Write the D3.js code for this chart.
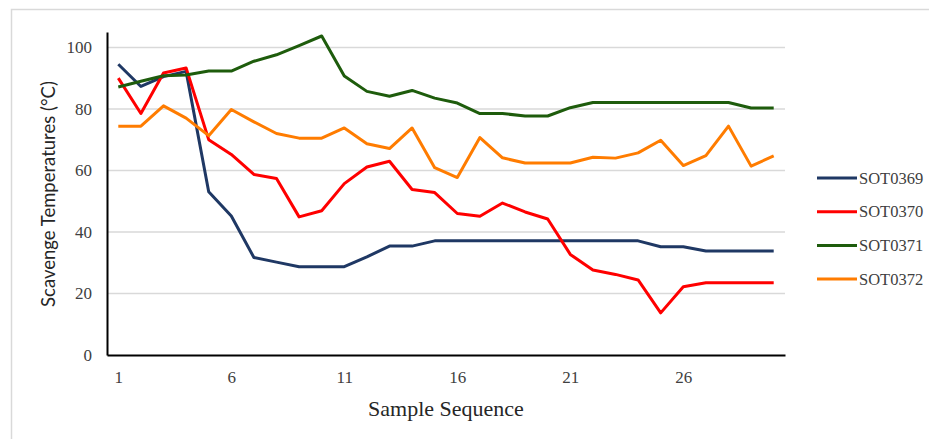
<!DOCTYPE html>
<html>
<head>
<meta charset="utf-8">
<script src="https://cdn.jsdelivr.net/npm/d3@7"></script>
<style>
  body { margin: 0; background: #fff; }
  .tick text { font-family: "Liberation Serif", serif; font-size: 17px; fill: #404040; }
</style>
</head>
<body>
<div id="chart"></div>
<script>
// data
var samples = d3.range(1, 31);
var seriesNames = ["SOT0369", "SOT0370", "SOT0371", "SOT0372"];
var seriesColors = ["#1f3864", "#ff0000", "#1e5c0c", "#ff7c00"];
var yTicks = [0, 20, 40, 60, 80, 100];
var xTicks = [1, 6, 11, 16, 21, 26];

var sot0369 = [94.5, 87.3, 90.5, 92.2, 53.1, 45.2, 31.7, 30.2, 28.7, 28.7,
               28.7, 31.9, 35.4, 35.4, 37.1, 37.1, 37.1, 37.1, 37.1, 37.1,
               37.1, 37.1, 37.1, 37.1, 35.2, 35.2, 33.8, 33.8, 33.8, 33.8];
var sot0370 = [90.0, 78.5, 91.7, 93.3, 70.0, 65.2, 58.7, 57.4, 44.9, 46.9,
               55.7, 61.1, 63.0, 53.8, 52.8, 46.0, 45.1, 49.4, 46.5, 44.2,
               32.7, 27.6, 26.2, 24.4, 13.7, 22.2, 23.5, 23.5, 23.5, 23.5];
var sot0371 = [87.1, 89.0, 90.8, 91.0, 92.3, 92.3, 95.5, 97.6, 100.6, 103.7,
               90.7, 85.7, 84.1, 86.0, 83.5, 81.9, 78.5, 78.5, 77.7, 77.7,
               80.4, 82.1, 82.1, 82.1, 82.1, 82.1, 82.1, 82.1, 80.3, 80.3];
var sot0372 = [74.4, 74.4, 81.0, 77.0, 71.3, 79.8, 75.8, 72.0, 70.5, 70.5,
               73.8, 68.7, 67.1, 73.8, 60.9, 57.7, 70.7, 64.1, 62.4, 62.4,
               62.4, 64.3, 64.0, 65.7, 69.8, 61.6, 64.8, 74.4, 61.4, 64.7];
var seriesValues = [sot0369, sot0370, sot0371, sot0372];

var W = 929, H = 439;
var margin = {top: 32, right: 144, bottom: 84, left: 107};

var svg = d3.select("#chart").append("svg")
  .attr("width", W)
  .attr("height", H);

// outer frame
svg.append("rect")
  .attr("x", 11.5).attr("y", 9.5)
  .attr("width", 940).attr("height", 460)
  .attr("fill", "none")
  .attr("stroke", "#d9d9d9")
  .attr("stroke-width", 1.5);

var x = d3.scalePoint()
  .domain(samples)
  .range([margin.left, W - margin.right])
  .padding(0.5);

var y = d3.scaleLinear()
  .domain([0, 105])
  .range([H - margin.bottom, margin.top]);

// gridlines
svg.append("g")
  .selectAll("line")
  .data(yTicks.slice(1))
  .join("line")
  .attr("x1", margin.left)
  .attr("x2", W - margin.right)
  .attr("y1", d => y(d))
  .attr("y2", d => y(d))
  .attr("stroke", "#d9d9d9")
  .attr("stroke-width", 1.5);

// y axis
var yAxis = svg.append("g")
  .attr("transform", `translate(${margin.left},0)`)
  .call(d3.axisLeft(y).tickValues(yTicks).tickSize(0).tickPadding(15));
yAxis.select(".domain").attr("stroke", "#000").attr("stroke-width", 2);

// x axis
var xAxis = svg.append("g")
  .attr("transform", `translate(0,${H - margin.bottom})`)
  .call(d3.axisBottom(x).tickValues(xTicks).tickSize(0).tickPadding(16));
xAxis.select(".domain").attr("stroke", "#000").attr("stroke-width", 2);

// lines
var line = d3.line()
  .x((d, i) => x(samples[i]))
  .y(d => y(d));

svg.append("g")
  .selectAll("path")
  .data(seriesValues)
  .join("path")
  .attr("d", d => line(d))
  .attr("fill", "none")
  .attr("stroke", (d, i) => seriesColors[i])
  .attr("stroke-width", 3)
  .attr("stroke-linejoin", "round");

// axis titles
svg.append("text")
  .attr("x", 446)
  .attr("y", 416)
  .attr("text-anchor", "middle")
  .style("font-family", "'Liberation Serif', serif")
  .style("font-size", "22px")
  .attr("fill", "#262626")
  .text("Sample Sequence");

svg.append("text")
  .attr("transform", "translate(55,194) rotate(-90)")
  .attr("text-anchor", "middle")
  .style("font-family", "Lato, sans-serif")
  .style("font-size", "18.5px")
  .attr("fill", "#262626")
  .text("Scavenge Temperatures (\u00B0C)");

// legend
var legend = svg.append("g")
  .selectAll("g")
  .data(seriesNames)
  .join("g")
  .attr("transform", (d, i) => `translate(817,${178 + i * 33.7})`);

legend.append("line")
  .attr("x1", 0).attr("x2", 40)
  .attr("stroke", (d, i) => seriesColors[i])
  .attr("stroke-width", 3);

legend.append("text")
  .attr("x", 42)
  .attr("dy", "0.35em")
  .style("font-family", "'Liberation Serif', serif")
  .style("font-size", "16.5px")
  .attr("fill", "#404040")
  .text(d => d);
</script>
</body>
</html>
